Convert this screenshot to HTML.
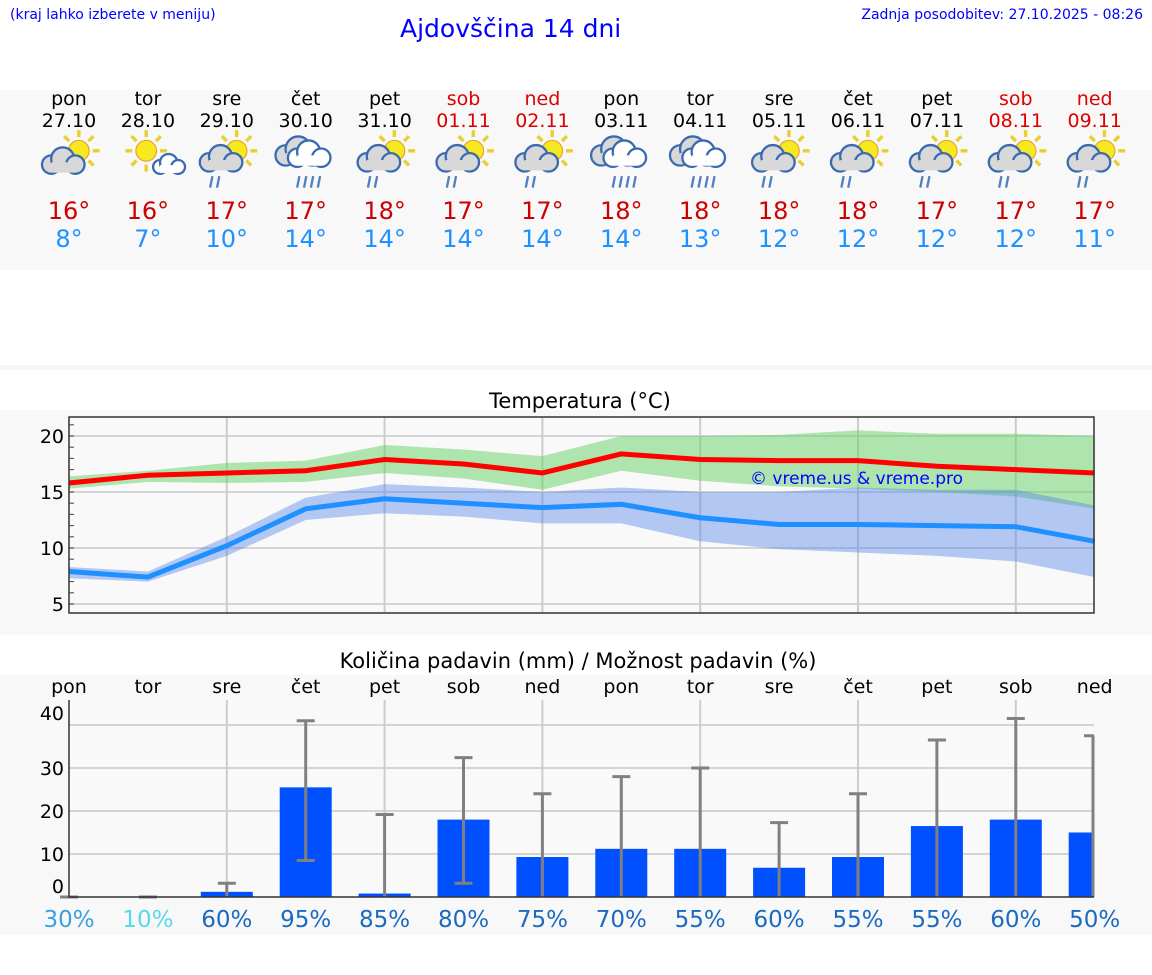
<!DOCTYPE html>
<html><head><meta charset="utf-8">
<style>
body{margin:0;width:1152px;height:975px;background:#fff;font-family:"DejaVu Sans","Liberation Sans",sans-serif;position:relative;overflow:hidden}
.abs{position:absolute}
</style></head><body>
<div class="abs" style="left:10px;top:7px;font-size:14px;color:#00f">(kraj lahko izberete v meniju)</div>
<div class="abs" style="left:400px;top:14px;font-size:25px;color:#00f">Ajdovščina 14 dni</div>
<div class="abs" style="right:9px;top:7px;font-size:14px;color:#00f">Zadnja posodobitev: 27.10.2025 - 08:26</div>
<div class="abs" style="left:0;top:90px;width:1152px;height:180px;background:#f8f8f8"></div>
<div class="abs" style="left:0;top:365px;width:1152px;height:5px;background:#f6f6f6"></div>
<div class="abs" style="left:0;top:410px;width:1152px;height:225px;background:#f8f8f8"></div>
<div class="abs" style="left:0;top:675px;width:1152px;height:260px;background:#f8f8f8"></div>
<div id="strip"></div>
<svg id="chart" class="abs" style="left:0;top:0" width="1152" height="975"></svg>
<script>
const days=["pon","tor","sre","čet","pet","sob","ned","pon","tor","sre","čet","pet","sob","ned"];
const dates=["27.10","28.10","29.10","30.10","31.10","01.11","02.11","03.11","04.11","05.11","06.11","07.11","08.11","09.11"];
const icons=["pc","pc2","pcr","cr","pcr","pcr","pcr","cr","cr","pcr","pcr","pcr","pcr","pcr"];
const tmaxD=[16,16,17,17,18,17,17,18,18,18,18,17,17,17];
const tminD=[8,7,10,14,14,14,14,14,13,12,12,12,12,11];
const tmax=[15.8,16.5,16.7,16.9,17.9,17.5,16.7,18.4,17.9,17.8,17.8,17.3,17.0,16.7];
const tmaxHi=[16.4,16.9,17.6,17.8,19.2,18.8,18.2,20,20,20.1,20.5,20.2,20.2,20];
const tmaxLo=[15.3,15.9,15.8,15.9,16.7,16.2,15.2,16.9,16.0,15.5,15.3,15,14.6,13.5];
const tmin=[7.9,7.4,10.2,13.5,14.4,14.0,13.6,13.9,12.7,12.1,12.1,12.0,11.9,10.6];
const tminHi=[8.3,7.9,11,14.5,15.7,15.4,15,15.4,15,15,15.4,15.2,15.2,13.8];
const tminLo=[7.3,7.0,9.3,12.5,13.1,12.8,12.2,12.2,10.6,9.9,9.6,9.3,8.8,7.4];
const rain=[0,0,1.2,25.5,0.8,18,9.3,11.2,11.2,6.8,9.3,16.5,18,15];
const rainLo=[0,0,0,8.5,0,3.2,0,0,0,0,0,0,0,0];
const rainHi=[0,0,3.2,41,19.2,32.4,24,28,30,17.3,24,36.5,41.5,37.5];
const prob=[30,10,60,95,85,80,75,70,55,60,55,55,60,50];
const tTicks=[5,10,15,20];
const rTicks=[0,10,20,30,40];

const X=i=>69+i*78.9;
const ty=v=>436+(20-v)*11.2;
const ry=v=>897-v*4.3;
const NS="http://www.w3.org/2000/svg";
const svg=document.getElementById('chart');
function el(t,a,p){const e=document.createElementNS(NS,t);for(const k in a)e.setAttribute(k,a[k]);(p||svg).appendChild(e);return e;}

const strip=document.getElementById('strip');
function icon(type,cx){
  const g=el('g',{transform:`translate(${cx-27},137) scale(1.15)`});
  
  
  const sun=(x,y,r)=>{for(let k=0;k<8;k++){const a=k*Math.PI/4;el('line',{x1:x+Math.cos(a)*(r+3),y1:y+Math.sin(a)*(r+3),x2:x+Math.cos(a)*(r+9),y2:y+Math.sin(a)*(r+9),stroke:'#e8d030','stroke-width':3},g);}el('circle',{cx:x,cy:y,r:r,fill:'#f8e820',stroke:'#e8a030','stroke-width':1},g);};
  const cloud=(x,y,s,f)=>{const c={fill:f,stroke:'#3a6ab0','stroke-width':2};el('circle',Object.assign({cx:x,cy:y,r:8*s},c),g);el('circle',Object.assign({cx:x+10*s,cy:y-5*s,r:10*s},c),g);el('circle',Object.assign({cx:x+21*s,cy:y,r:8*s},c),g);el('rect',{x:x,y:y-2*s,width:21*s,height:9*s,fill:f},g);};
  const drops=(x,y,n)=>{for(let k=0;k<n;k++)el('line',{x1:x+k*6,y1:y,x2:x+k*6-2,y2:y+10,stroke:'#5080c0','stroke-width':2},g);};
  if(type==='pc'){sun(32,12,9);cloud(8,24,1,'#d8d8d8');}
  else if(type==='pc2'){sun(22,12,9);cloud(34,26,0.75,'#fff');}
  else if(type==='pcr'){sun(32,12,9);cloud(8,22,1,'#d8d8d8');drops(11,34,2);}
  else{cloud(6,16,1.1,'#d8d8d8');cloud(16,18,1,'#fff');drops(18,34,4);}
}
days.forEach((d,i)=>{
  const cx=X(i);const we=(i==5||i==6||i==12||i==13);
  const mk=(txt,top,size,col,name)=>{const e=document.createElement('div');e.className='abs';e.textContent=txt;e.style.cssText=`left:${cx-50}px;width:100px;text-align:center;top:${top}px;font-size:${size}px;color:${col}`;strip.appendChild(e);};
  mk(d,88,19,we?'#d00':'#000','day-name');
  mk(dates[i],110,19,we?'#d00':'#000','day-date');
  mk(tmaxD[i]+'°',197,24,'#c00','max-temp');
  mk(tminD[i]+'°',225,24,'#1e90ff','min-temp');
  icon(icons[i],cx);
});

el('text',{x:580,y:408,'font-size':21,'text-anchor':'middle',fill:'#000'}).textContent='Temperatura (°C)';
el('rect',{x:69,y:417,width:1025,height:196,fill:'#f9f9f9'});
tTicks.forEach(v=>{el('line',{x1:69,x2:1094,y1:ty(v),y2:ty(v),stroke:'#d4d4d4','stroke-width':2});const t=el('text',{x:64,y:ty(v)+7,'font-size':19,'text-anchor':'end'});t.textContent=v;});
for(let v=5;v<=21;v++)el('line',{x1:69,x2:74,y1:ty(v),y2:ty(v),stroke:'#444'});
for(let i=2;i<14;i+=2)el('line',{x1:X(i),x2:X(i),y1:417,y2:613,stroke:'#ccc','stroke-width':2});
function band(hi,lo,col,name){let p=hi.map((v,i)=>X(i)+','+ty(v)).join(' ')+' '+lo.map((v,i)=>X(i)+','+ty(v)).reverse().join(' ');const e=el('polygon',{points:p,fill:col});}
function line(a,col,name){const e=el('polyline',{points:a.map((v,i)=>X(i)+','+ty(v)).join(' '),fill:'none',stroke:col,'stroke-width':5});}
band(tmaxHi,tmaxLo,'rgba(100,210,100,0.5)','max-range-band');
band(tminHi,tminLo,'rgba(80,130,230,0.42)','min-range-band');
line(tmax,'#f00','max-temp-line');
line(tmin,'#1e90ff','min-temp-line');
el('text',{x:750,y:484,'font-size':17,fill:'#00f'}).textContent='© vreme.us & vreme.pro';
el('rect',{x:69,y:417,width:1025,height:196,fill:'none',stroke:'#333','stroke-width':1.5});

el('text',{x:578,y:668,'font-size':21,'text-anchor':'middle'}).textContent='Količina padavin (mm) / Možnost padavin (%)';
el('rect',{x:69,y:700,width:1025,height:197,fill:'#f9f9f9'});
const labOff={0:-4,40:-5};
rTicks.forEach(v=>{if(v>0)el('line',{x1:69,x2:1094,y1:ry(v),y2:ry(v),stroke:'#d4d4d4','stroke-width':2});const t=el('text',{x:64,y:ry(v)+7+(labOff[v]!==undefined?labOff[v]-7:0),'font-size':19,'text-anchor':'end'});t.textContent=v;});
for(let i=2;i<14;i+=2)el('line',{x1:X(i),x2:X(i),y1:700,y2:897,stroke:'#ccc','stroke-width':2});
days.forEach((d,i)=>{
  const t=el('text',{x:X(i),y:693,'font-size':19,'text-anchor':'middle'});t.textContent=d;
  const b=el('rect',{x:X(i)-26,y:ry(rain[i]),width:Math.min(52,1094-(X(i)-26)),height:rain[i]*4.3,fill:'#0050ff'});
  
  
  const x=Math.min(X(i),1093);
  el('line',{x1:x,x2:x,y1:ry(rainLo[i]),y2:ry(rainHi[i]),stroke:'#808080','stroke-width':3});
  el('line',{x1:x-9,x2:Math.min(x+9,1094),y1:ry(rainHi[i]),y2:ry(rainHi[i]),stroke:'#808080','stroke-width':3});
  if(rainLo[i]>0)el('line',{x1:x-9,x2:x+9,y1:ry(rainLo[i]),y2:ry(rainLo[i]),stroke:'#808080','stroke-width':3});
  const p=el('text',{x:X(i),y:927,'font-size':23,'text-anchor':'middle',fill:prob[i]<=10?'#5ad8e8':prob[i]<=30?'#3aa0e0':'#1a6ac0'});
  p.textContent=prob[i]+'%';
  
  
});
el('polyline',{points:'69,700 69,897 1094,897',fill:'none',stroke:'#333','stroke-width':1.5});
</script>
</body></html>
